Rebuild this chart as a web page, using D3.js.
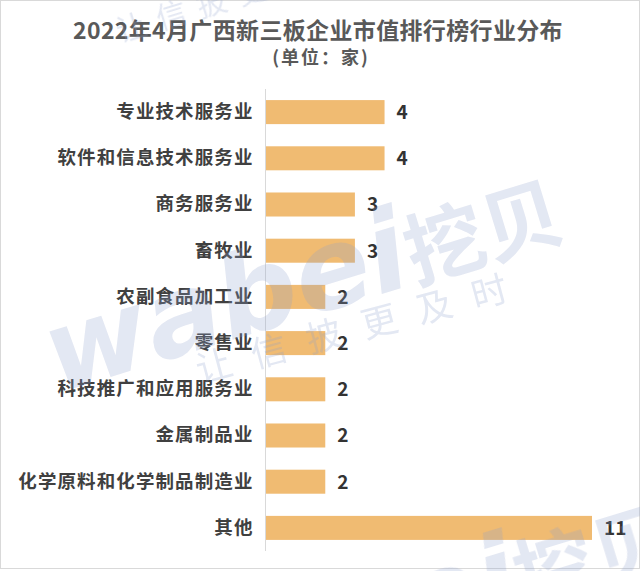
<!DOCTYPE html>
<html>
<head>
<meta charset="utf-8">
<script src="https://cdn.jsdelivr.net/npm/d3@7"></script>
<style>
  body { margin: 0; background: #fff; }
  svg { display: block; font-family: "Noto Sans CJK SC", "Noto Sans", sans-serif; }
</style>
</head>
<body>
<svg id="chart" width="640" height="571"></svg>
<script>
// data
var categories = ["专业技术服务业", "软件和信息技术服务业", "商务服务业", "畜牧业", "农副食品加工业",
    "零售业", "科技推广和应用服务业", "金属制品业", "化学原料和化学制品制造业", "其他"];
var counts = [4, 4, 3, 3, 2, 2, 2, 2, 2, 11];

var title = "2022年4月广西新三板企业市值排行榜行业分布";
var subtitle = "(单位：家)";

var width = 640, height = 571;
var plotLeft = 266, plotTop = 89, plotBottom = 551;

var svg = d3.select("#chart");

// border
svg.append("rect")
    .attr("x", 0.5).attr("y", 0.5)
    .attr("width", width - 1).attr("height", height - 3)
    .attr("fill", "#fff")
    .attr("stroke", "#d9d9d9");

// scales
var x = d3.scaleLinear().domain([0, 11]).range([plotLeft, 592]);
var y = d3.scaleBand().domain(categories).range([plotTop, plotBottom]).paddingInner(0.48).paddingOuter(0.24);

// title
svg.append("text")
    .attr("x", 318).attr("y", 39)
    .attr("text-anchor", "middle")
    .attr("font-size", 23).attr("font-weight", "bold")
    .attr("letter-spacing", 0.35)
    .attr("fill", "#595959")
    .text(title);
svg.append("text")
    .attr("x", 321).attr("y", 64)
    .attr("text-anchor", "middle")
    .attr("font-size", 18).attr("font-weight", "bold")
    .attr("letter-spacing", 2)
    .attr("fill", "#595959")
    .text(subtitle);

// bars
svg.append("g").selectAll("rect")
    .data(counts)
    .join("rect")
    .attr("x", x(0))
    .attr("y", function (d, i) { return y(categories[i]); })
    .attr("width", function (d) { return x(d) - x(0); })
    .attr("height", y.bandwidth())
    .attr("fill", "#f0bb72");

// axis
var axis = svg.append("g")
    .attr("transform", "translate(" + (plotLeft - 0.5) + ",0)")
    .call(d3.axisLeft(y).tickSize(0).tickPadding(12));
axis.select(".domain").attr("stroke", "#d9d9d9").attr("d", "M0," + plotTop + "V" + plotBottom);
axis.selectAll("text")
    .attr("font-size", 18.5).attr("font-weight", "bold")
    .attr("letter-spacing", 1.1)
    .attr("fill", "#404040")
    .attr("font-family", "Noto Sans CJK SC, sans-serif");

// value labels
svg.append("g").selectAll("text")
    .data(counts)
    .join("text")
    .attr("x", function (d) { return x(d) + 12; })
    .attr("y", function (d, i) { return y(categories[i]) + y.bandwidth() / 2; })
    .attr("dy", "0.36em")
    .attr("font-size", 19).attr("font-weight", "bold")
    .attr("fill", "#333")
    .text(function (d) { return d; });

// watermark, drawn on top and faint
var wm = svg.append("g").attr("fill", "#8fa0cc").attr("opacity", 0.25).attr("font-weight", "bold");

function logo(tx, ty) {
    var t = wm.append("text")
        .attr("transform", "translate(" + tx + "," + ty + ") rotate(-17)");
    t.append("tspan")
        .attr("font-size", 112).attr("font-style", "italic")
        .attr("font-family", "DejaVu Sans, sans-serif")
        .text("wabei");
    t.append("tspan")
        .attr("font-size", 80)
        .text("挖贝");
}
logo(58, 393);
logo(168, 718);

wm.append("text")
    .attr("transform", "translate(200,383) rotate(-15)")
    .attr("font-size", 36).attr("font-weight", "normal").attr("letter-spacing", 21)
    .text("让信披更及时");
wm.append("text")
    .attr("transform", "translate(120,42) rotate(-17)")
    .attr("font-size", 30).attr("font-weight", "normal").attr("letter-spacing", 12)
    .text("让信披更及时");
</script>
</body>
</html>
